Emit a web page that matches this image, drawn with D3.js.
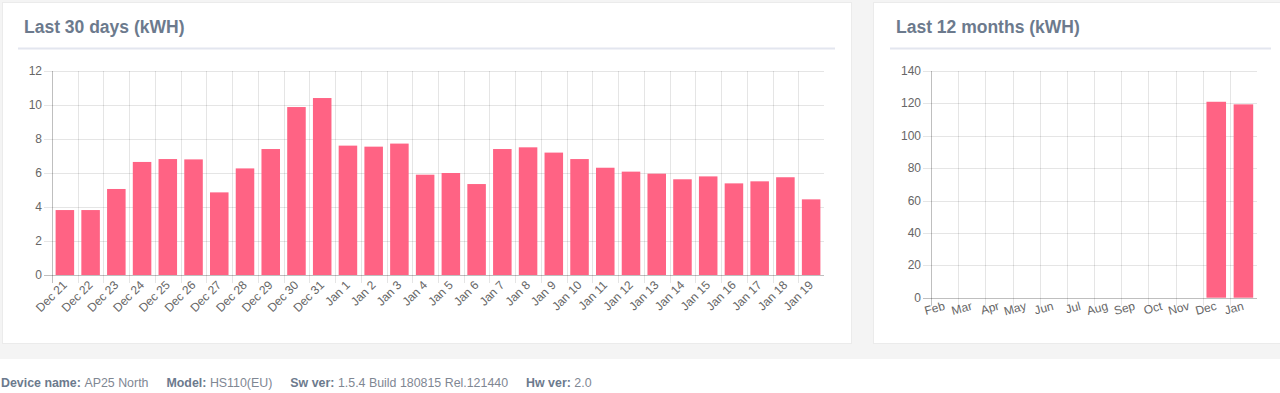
<!DOCTYPE html>
<html>
<head>
<meta charset="utf-8">
<script src="https://cdn.jsdelivr.net/npm/d3@7"></script>
<style>
html,body{margin:0;padding:0;background:#fff;width:1280px;height:393px;overflow:hidden;}
svg{display:block;font-family:"Liberation Sans",Arial,Helvetica,sans-serif;}
</style>
</head>
<body>
<svg id="chart" width="1280" height="393"></svg>
<script>
// ---- data ----
const dayLabels = ["Dec 21","Dec 22","Dec 23","Dec 24","Dec 25","Dec 26","Dec 27","Dec 28","Dec 29","Dec 30","Dec 31",
  "Jan 1","Jan 2","Jan 3","Jan 4","Jan 5","Jan 6","Jan 7","Jan 8","Jan 9","Jan 10","Jan 11","Jan 12","Jan 13","Jan 14",
  "Jan 15","Jan 16","Jan 17","Jan 18","Jan 19"];
const dayValues = [3.82,3.82,5.06,6.65,6.82,6.8,4.86,6.27,7.41,9.88,10.41,7.61,7.55,7.73,5.9,6.0,5.35,7.41,7.51,7.2,6.82,
  6.31,6.08,5.96,5.63,5.8,5.39,5.51,5.75,4.45];
const dayTicks = [0,2,4,6,8,10,12];

const monthLabels = ["Feb","Mar","Apr","May","Jun","Jul","Aug","Sep","Oct","Nov","Dec","Jan"];
const monthValues = [0,0,0,0,0,0,0,0,0,0,121.0,119.4];
const monthTicks = [0,20,40,60,80,100,120,140];

const chartTitles = ["Last 30 days (kWH)","Last 12 months (kWH)"];
const footerItems = [["Device name:","AP25 North"],["Model:","HS110(EU)"],["Sw ver:","1.5.4 Build 180815 Rel.121440"],["Hw ver:","2.0"]];

// ---- drawing ----
const svg = d3.select("#chart");
const BAR = "#ff6384", GRID = "rgba(0,0,0,0.1)", ZERO = "rgba(0,0,0,0.25)", TXT = "#666", TITLE = "#6c7a8d";

// page background
svg.append("rect").attr("x",0).attr("y",0).attr("width",1280).attr("height",359).attr("fill","#f4f4f4");
// cards
const cards = [{x:2.5,y:2.5,w:849,h:341},{x:873.5,y:2.5,w:420,h:341}];
cards.forEach(c=>svg.append("rect").attr("x",c.x).attr("y",c.y).attr("width",c.w).attr("height",c.h)
  .attr("fill","#fff").attr("stroke","#ebebeb").attr("stroke-width",1));

// titles + underline
const titlePos = [{x:24,line:[18,835]},{x:896,line:[890,1271]}];
titlePos.forEach((t,i)=>{
  svg.append("text").attr("x",t.x).attr("y",33).attr("fill",TITLE).attr("font-weight","bold")
    .attr("font-size","17.5px").text(chartTitles[i]);
  svg.append("line").attr("x1",t.line[0]).attr("x2",t.line[1]).attr("y1",48.5).attr("y2",48.5)
    .attr("stroke","#e3e6ef").attr("stroke-width",2);
});

function barChart(cfg){
  const x = d3.scaleBand().domain(cfg.labels).range([cfg.left,cfg.right]).padding(0);
  const y = d3.scaleLinear().domain([0,cfg.max]).range([cfg.bottom,cfg.top]);
  const g = svg.append("g");
  // horizontal grid + tick marks
  cfg.ticks.forEach(t=>{
    const yy = Math.round(y(t))+0.5;
    g.append("line").attr("x1",cfg.left-8).attr("x2",cfg.right).attr("y1",yy).attr("y2",yy)
      .attr("stroke", t===0?ZERO:GRID).attr("stroke-width",1);
    g.append("text").attr("x",cfg.left-10).attr("y",y(t)).attr("text-anchor","end")
      .attr("dominant-baseline","central").attr("font-size","12px").attr("fill",TXT).text(t);
  });
  // vertical grid at category boundaries
  cfg.labels.forEach((l,i)=>{
    const xx = Math.round(x(l))+0.5;
    g.append("line").attr("x1",xx).attr("x2",xx).attr("y1",cfg.top).attr("y2",cfg.bottom+8)
      .attr("stroke", i===0?ZERO:GRID).attr("stroke-width",1);
  });
  // bars
  const bw = x.bandwidth()*0.72;
  g.selectAll("rect.bar").data(cfg.values).enter().append("rect").attr("class","bar")
    .attr("x",(d,i)=>x(cfg.labels[i])+x.bandwidth()/2-bw/2)
    .attr("width",bw)
    .attr("y",d=>y(d)).attr("height",d=>cfg.bottom-y(d))
    .attr("fill",BAR);
  // x labels
  cfg.labels.forEach(l=>{
    const cx = x(l)+x.bandwidth()/2;
    g.append("text").attr("transform",`translate(${cx},${cfg.bottom+cfg.labelDy}) rotate(${-cfg.rot})`)
      .attr("text-anchor","end").attr("dominant-baseline","central")
      .attr("font-size","12px").attr("fill",TXT).text(l);
  });
}

barChart({labels:dayLabels, values:dayValues, ticks:dayTicks, max:12, left:52, right:824, top:71, bottom:275, rot:45, labelDy:8});
barChart({labels:monthLabels, values:monthValues, ticks:monthTicks, max:140, left:931, right:1257, top:71, bottom:297.7, rot:15, labelDy:8});

// footer
const ft = svg.append("text").attr("x",1).attr("y",387).attr("font-size","12.4px");
footerItems.forEach((it,i)=>{
  ft.append("tspan").attr("dx", i===0?0:18).attr("font-weight","bold").attr("fill","#6c7a8d").text(it[0]);
  ft.append("tspan").attr("dx",3.5).attr("fill","#7f8793").text(it[1]);
});
</script>
</body>
</html>
